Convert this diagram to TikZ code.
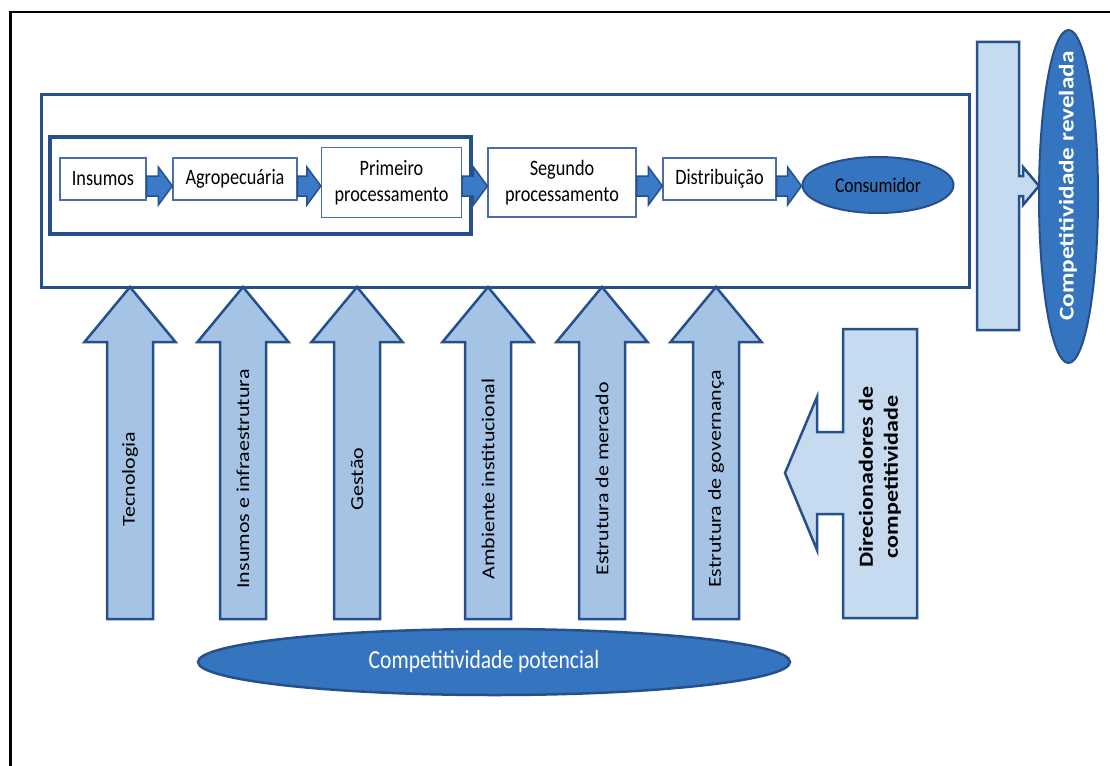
\documentclass[tikz,border=0pt]{standalone}
\usepackage{fontspec}
\setmainfont{Carlito}
% condensed face for horizontal labels, extended face for labels set on end
\newfontfamily\hfont[FakeStretch=0.83]{Carlito}
\newfontfamily\vfont[FakeStretch=1.2]{Carlito}
\usetikzlibrary{calc,shapes.geometric}

\definecolor{edgeblue}{RGB}{38,80,140}
\definecolor{boxedge}{RGB}{74,110,172}
\definecolor{linkfill}{RGB}{58,122,198}
\definecolor{deepfill}{RGB}{53,117,191}
\definecolor{paleblue}{RGB}{198,218,240}
\definecolor{midblue}{RGB}{165,195,228}

% block arrow between two stages of the chain
\newcommand\stagelink[2]{%
  \path (#1.east) coordinate (ls) (#2.west) coordinate (lt);
  \draw[linkarrow] (ls |- 0,176) -- ($(lt |- 0,176)+(-14,0)$) -- ($(lt |- 0,167)+(-14,0)$)
    -- (lt |- 0,186) -- ($(lt |- 0,205)+(-14,0)$) -- ($(lt |- 0,196)+(-14,0)$)
    -- (ls |- 0,196) -- cycle;}

\begin{document}
\begin{tikzpicture}[x=1pt,y=-1pt,
  stagebox/.style={draw=boxedge, line width=1.3pt, fill=white, inner sep=0pt,
    align=center, font=\hfont\fontsize{22}{26}\selectfont},
  chainframe/.style={draw=edgeblue, line width=3pt},
  linkarrow/.style={fill=linkfill, draw=edgeblue, line width=1.5pt},
  blockarrow/.style={fill=midblue, draw=edgeblue, line width=2.5pt},
  palearrow/.style={fill=paleblue, draw=edgeblue, line width=2.5pt},
  deepellipse/.style={ellipse, fill=deepfill, draw=edgeblue, line width=2pt, inner sep=0pt},
  vlabel/.style={rotate=90, inner sep=0pt, font=\vfont\fontsize{18.3}{22}\selectfont},
]
\useasboundingbox (0,0) rectangle (1110,765);

% page frame
\draw[line width=2.5pt] (10.5,766) -- (10.5,12) -- (1111,12);

% chain frames
\draw[chainframe] (41,95) rectangle (969,287);
\draw[chainframe, line width=3.5pt] (50,137) rectangle (471,234);

% stages of the chain
\node[stagebox, minimum width=86, minimum height=42] (ins) at (103,179) {Insumos};
\node[stagebox, minimum width=124, minimum height=42] (agro) at (235,179) {Agropecuária};
\node[stagebox, minimum width=140, minimum height=70] (prim) at (391.5,182.5) {Primeiro\\processamento};
\node[stagebox, minimum width=148, minimum height=69] (seg) at (562,182.5) {Segundo\\processamento};
\node[stagebox, minimum width=113, minimum height=42] (dist) at (719.5,179) {Distribuição};
\node[deepellipse, minimum width=151, minimum height=56,
  font=\hfont\fontsize{21}{25}\selectfont] (cons) at (878,185) {Consumidor};

\stagelink{ins}{agro}
\stagelink{agro}{prim}
\stagelink{prim}{seg}
\stagelink{seg}{dist}
\stagelink{dist}{cons}

% factors pushing up into the chain
\foreach \cx/\nm/\txt in {130/tec/Tecnologia, 243/infra/Insumos e infraestrutura,
    357/gest/Gestão, 488/amb/Ambiente institucional,
    602/merc/Estrutura de mercado, 716/gov/Estrutura de governança}{
  \draw[blockarrow] (\cx-23,619) -- (\cx-23,342) -- (\cx-45.5,342) -- (\cx,287)
    -- (\cx+45.5,342) -- (\cx+23,342) -- (\cx+23,619) -- cycle;
  \node[vlabel] (\nm) at (\cx,479) {\txt};
}

% revealed competitiveness
\draw[palearrow] (977,42) -- (1019,42) -- (1019,176) -- (1023,176) -- (1023,167)
  -- (1039,186) -- (1023,205) -- (1023,196) -- (1019,196) -- (1019,330) -- (977,330) -- cycle;
\node[deepellipse, minimum width=59, minimum height=333] (rev) at (1068.5,196.5) {};
\node[rotate=90, inner sep=0pt, text=white, font=\vfont\bfseries\fontsize{21}{25}\selectfont]
  (revtext) at (1068,186) {Competitividade revelada};

% drivers
\draw[palearrow] (843,329) -- (917,329) -- (917,618) -- (843,618) -- (843,514)
  -- (817,514) -- (817,550) -- (785,473) -- (817,397) -- (817,432) -- (843,432) -- cycle;
\node[rotate=90, inner sep=0pt, align=center, font=\vfont\bfseries\fontsize{20}{25}\selectfont]
  (drv) at (880,477) {Direcionadores de\\competitividade};

% potential competitiveness
\node[deepellipse, line width=2.5pt, minimum width=592, minimum height=66] (pot) at (494,662) {};
\node[inner sep=0pt, text=white, font=\hfont\fontsize{26}{30}\selectfont]
  (pottext) at (484,662) {Competitividade potencial};
\end{tikzpicture}
\end{document}
